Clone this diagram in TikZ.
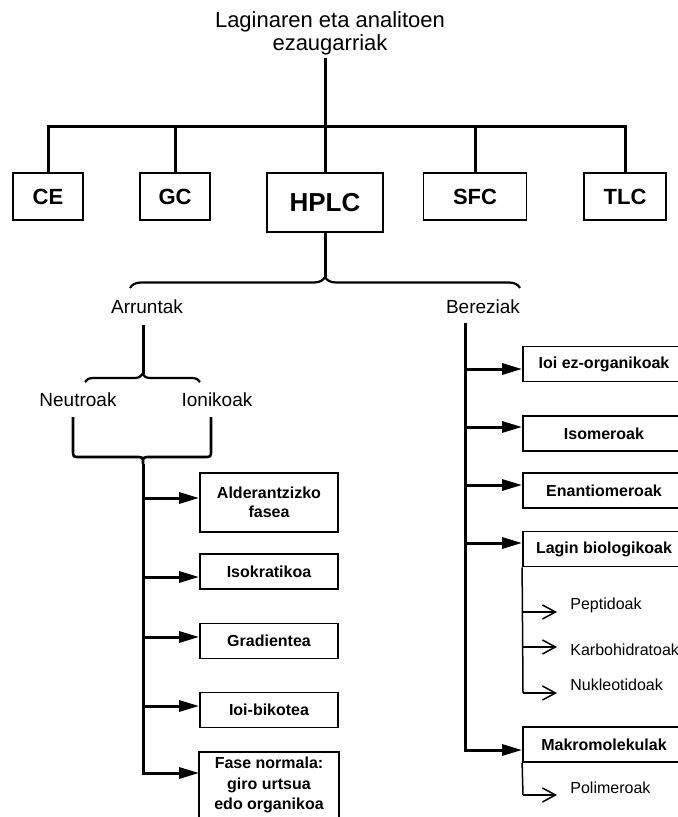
\documentclass[tikz,border=0pt]{standalone}
\usepackage{fontspec}
\setmainfont{Liberation Sans}
\usetikzlibrary{arrows.meta,positioning,calc,decorations.pathreplacing}
\tikzset{
  tech/.style={draw, line width=0.9pt, font=\fontsize{11}{13}\selectfont\bfseries,
               minimum width=#1, minimum height=23.5pt, inner sep=1pt},
  leaf/.style={draw, line width=0.9pt, font=\fontsize{8}{9.75}\selectfont\bfseries,
               minimum width=#1, minimum height=17.5pt, align=center, inner sep=1pt},
  cat/.style={font=\fontsize{9.5}{11}\selectfont, inner sep=1pt},
  sub/.style={font=\fontsize{8}{10}\selectfont, anchor=west, inner sep=0pt},
  trunk/.style={line width=1.5pt},
  thinline/.style={line width=0.75pt},
  bigarrow/.style={line width=1.5pt, -{Triangle[length=10pt,width=5.5pt]}},
  smallarrow/.style={line width=0.75pt, -{Straight Barb[length=6.5pt,width=7pt]}},
  bracket/.style={line width=1.1pt, decorate, decoration={brace, amplitude=#1}},
}

\begin{document}
\begin{tikzpicture}[x=0.5pt, y=-0.5pt]
\useasboundingbox (0,0) rectangle (678,817);
\clip (0,0) rectangle (678,817);

% Title and the five techniques
\node[font=\fontsize{11}{11.5}\selectfont, align=center] (title) at (330,33.5)
      {Laginaren eta analitoen\\ezaugarriak};
\coordinate (top) at (325,58);
\coordinate (bar) at (325,127);

\node[tech=35pt] (ce) at (48,196.5) {CE};
\node[tech=35pt] (gc) at (175,196.5) {GC};
\node[tech=58pt, minimum height=29.5pt, font=\fontsize{13}{15}\selectfont\bfseries] (hplc) at (325,202.5) {HPLC};
\node[tech=51.5pt] (sfc) at (475,196.5) {SFC};
\node[tech=41pt] (tlc) at (625,196.5) {TLC};

\draw[trunk] (top) -- (bar);
\draw[trunk] (ce.north) |- (bar) -| (tlc.north);
\foreach \n in {gc,hplc,sfc}
  \draw[trunk] (\n.north) -- (\n.north |- bar);

% HPLC split
\coordinate (hcusp) at (325,277);
\draw[trunk] (hplc.south) -- (hcusp);
\draw[bracket=5.5pt] (130,288) -- (520,288);

\node[cat] (arrunt) at (147,307) {Arruntak};
\node[cat] (berez) at (483,307) {Bereziak};

% Arruntak branch
\coordinate (atop) at (143,325);
\coordinate (acusp) at (143,374);
\draw[trunk] (atop) -- (acusp);
\draw[bracket=4pt] (85,382) -- (200,382);

\node[cat] (neutro) at (78,400) {Neutroak};
\node[cat] (ioniko) at (217,400) {Ionikoak};

\coordinate (nbot) at (73,417);
\coordinate (ibot) at (211,417);
\coordinate (lcusp) at (143,464);
\draw[line width=1.3pt] (nbot) -- (73,450) .. controls (73,457) .. (80,457) -- (136,457)
      .. controls (143,457) .. (lcusp) .. controls (143,457) .. (150,457) -- (204,457)
      .. controls (211,457) .. (211,450) -- (ibot);

% Arruntak leaves
\node[leaf=69pt, minimum height=29.5pt] (alder) at (269,502.5) {Alderantzizko\\fasea};
\node[leaf=69pt] (isokr) at (269,571.5) {Isokratikoa};
\node[leaf=69pt] (grad) at (269,641) {Gradientea};
\node[leaf=69pt] (ioibi) at (269,710) {Ioi-bikotea};
\node[leaf=69pt, draw=none, anchor=north, inner ysep=2pt] (fasen) at (269,752)
      {Fase normala:\\[0.5pt]giro urtsua\\[0.5pt]edo organikoa};
\draw[line width=0.9pt] (fasen.north west) rectangle ([yshift=-12pt]fasen.south east);

\coordinate (l1) at (143,498);
\coordinate (l2) at (143,577);
\coordinate (l3) at (143,637);
\coordinate (l4) at (143,706);
\coordinate (l5) at (143,773);
\draw[bigarrow] (lcusp) -- (l5) -- (l5 -| fasen.west);
\foreach \l/\b in {l1/alder, l2/isokr, l3/grad, l4/ioibi}
  \draw[bigarrow] (\l) -- (\l -| \b.west);

% Bereziak leaves
\node[leaf=81pt] (ioiez) at (604,364) {Ioi ez-organikoak};
\node[leaf=81pt] (isom) at (604,433.5) {Isomeroak};
\node[leaf=81pt] (enant) at (604,490.5) {Enantiomeroak};
\node[leaf=81pt] (lagin) at (604,549) {Lagin biologikoak};
\node[leaf=81pt] (makro) at (604,744.5) {Makromolekulak};

\coordinate (btop) at (465,323);
\coordinate (r1) at (465,369);
\coordinate (r2) at (465,427);
\coordinate (r3) at (465,485);
\coordinate (r4) at (465,543);
\coordinate (r5) at (465,750);
\draw[bigarrow] (btop) -- (r5) -- (r5 -| makro.west);
\foreach \r/\b in {r1/ioiez, r2/isom, r3/enant, r4/lagin}
  \draw[bigarrow] (\r) -- (\r -| \b.west);

% Sub-items
\node[sub] (pept) at (570,605) {Peptidoak};
\node[sub] (karbo) at (570,650) {Karbohidratoak};
\node[sub] (nukl) at (570,685) {Nukleotidoak};
\node[sub] (polim) at (570,788) {Polimeroak};

\coordinate (s1) at (523,612);
\coordinate (s2) at (523,647);
\coordinate (s3) at (523,693);
\coordinate (s4) at (523,795);
\draw[thinline] (lagin.south west) -- (s3);
\draw[thinline] (makro.south west) -- (s4);
\foreach \s in {s1,s2,s3,s4}
  \draw[smallarrow] (\s) -- ++(34,0);

\end{tikzpicture}
\end{document}
